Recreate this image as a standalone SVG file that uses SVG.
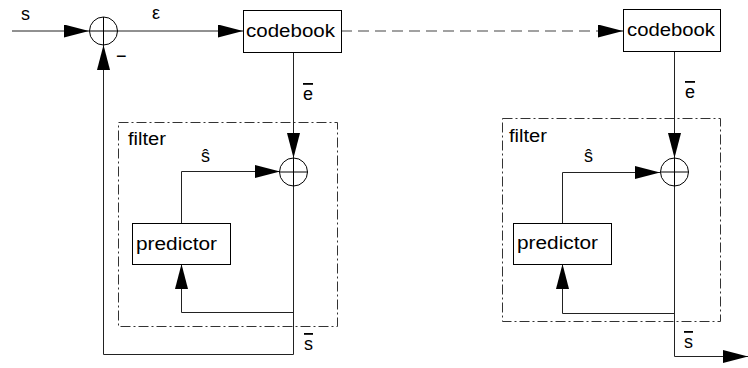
<svg xmlns="http://www.w3.org/2000/svg" width="748" height="368" viewBox="0 0 748 368">
<style>
text{font-family:"Liberation Sans",Arial,sans-serif;font-size:18px;fill:#000}
.box{fill:#fff;stroke:#000;stroke-width:1}
.sum{fill:none;stroke:#000;stroke-width:1}
.filt{fill:none;stroke:#333;stroke-width:1;stroke-dasharray:10 3 2 3}
.ln{fill:none;stroke:#222;stroke-width:1}
.dash{fill:none;stroke:#444;stroke-width:1.2;stroke-dasharray:11 6}
.ov{text-decoration:overline}
</style>
<defs>
<marker id="ah" markerUnits="userSpaceOnUse" markerWidth="26" markerHeight="13" refX="25" refY="6.5" orient="auto">
<path d="M0,0 L25,6.5 L0,13 z" fill="#000"/>
</marker>
</defs>

<g id="filter1"><rect class="filt" x="118.5" y="122.5" width="219" height="204"/><text x="128" y="145" textLength="38" lengthAdjust="spacingAndGlyphs">filter</text></g>
<g id="filter2"><rect class="filt" x="502.5" y="118.5" width="218" height="203"/><text x="509" y="142" textLength="38" lengthAdjust="spacingAndGlyphs">filter</text></g>

<g id="connectors">
<path class="ln" d="M12,31 H89" marker-end="url(#ah)"/>
<path class="ln" d="M117,31 H243" marker-end="url(#ah)"/>
<path class="dash" d="M341,31 H600"/>
<path class="ln" d="M600,31 H623" marker-end="url(#ah)"/>
<path class="ln" d="M293.5,52 V158" marker-end="url(#ah)"/>
<path class="ln" d="M181.5,223 V171.5 H280" marker-end="url(#ah)"/>
<path class="ln" d="M293.5,186 V312.5 H181.5 V264" marker-end="url(#ah)"/>
<path class="ln" d="M293.5,312 V354.5 H103.5 V45" marker-end="url(#ah)"/>
<path class="ln" d="M674.5,51 V158" marker-end="url(#ah)"/>
<path class="ln" d="M562.5,223 V172.5 H660" marker-end="url(#ah)"/>
<path class="ln" d="M674.5,186 V313.5 H562.5 V264" marker-end="url(#ah)"/>
<path class="ln" d="M674.5,313 V356.5 H748" marker-end="url(#ah)"/>
</g>

<g id="sum1"><circle class="sum" cx="103.5" cy="31" r="14"/><path class="sum" d="M89.5,31 H117.5 M103.5,17 V45"/></g>
<g id="codebook1"><rect class="box" x="243.5" y="10.5" width="98" height="42"/><text x="246" y="37" textLength="89" lengthAdjust="spacingAndGlyphs">codebook</text></g>
<g id="sum2"><circle class="sum" cx="293.5" cy="172" r="14"/><path class="sum" d="M279.5,172 H307.5 M293.5,158 V186"/></g>
<g id="predictor1"><rect class="box" x="132.5" y="223.5" width="98" height="41"/><text x="136" y="250" textLength="81" lengthAdjust="spacingAndGlyphs">predictor</text></g>
<g id="codebook2"><rect class="box" x="623.5" y="9.5" width="97" height="42"/><text x="627" y="36" textLength="88" lengthAdjust="spacingAndGlyphs">codebook</text></g>
<g id="sum3"><circle class="sum" cx="674.5" cy="172" r="14"/><path class="sum" d="M660.5,172 H688.5 M674.5,158 V186"/></g>
<g id="predictor2"><rect class="box" x="513.5" y="223.5" width="98" height="41"/><text x="517" y="249" textLength="81" lengthAdjust="spacingAndGlyphs">predictor</text></g>

<g id="labels">
<text x="21" y="20">s</text>
<text x="152" y="19">ε</text>
<text x="116" y="62">−</text>
<text x="303" y="100" class="ov">e</text>
<text x="685" y="98" class="ov">e</text>
<text x="201" y="162">ŝ</text>
<text x="584" y="162">ŝ</text>
<text x="304" y="350" class="ov">s</text>
<text x="684" y="348" class="ov">s</text>
</g>
</svg>
